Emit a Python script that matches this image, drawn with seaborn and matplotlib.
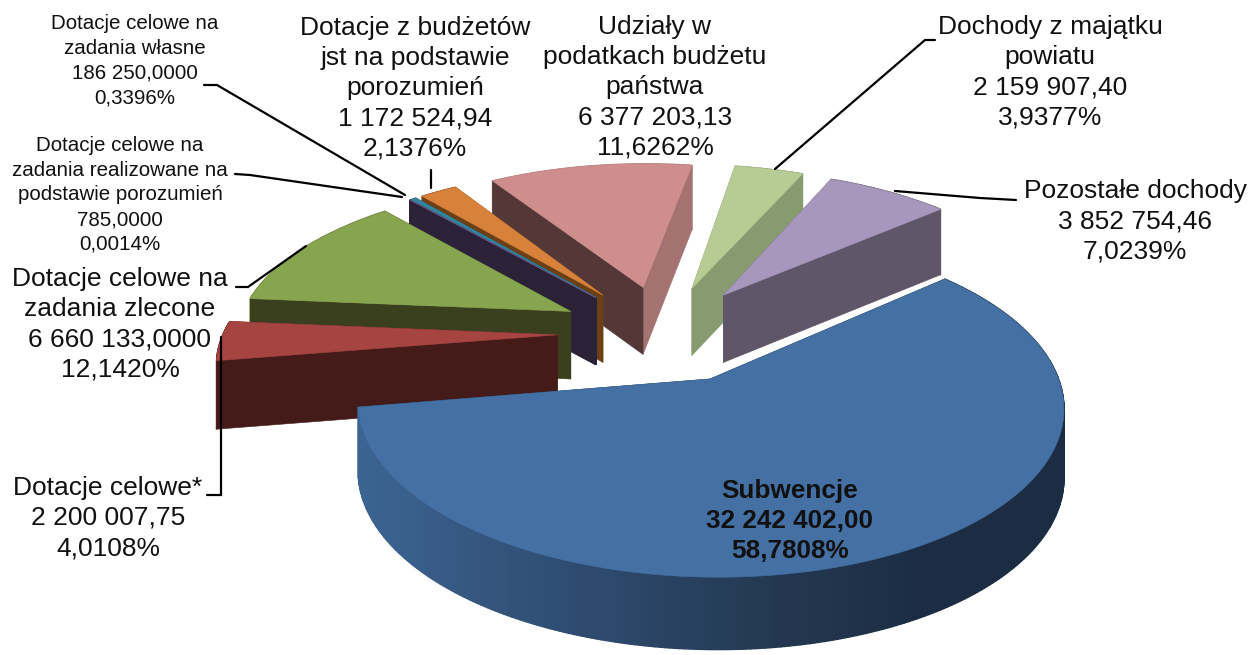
import numpy as np
import matplotlib
matplotlib.use("Agg")
import matplotlib.pyplot as plt
import seaborn as sns
from matplotlib.patches import Polygon

sns.set_theme(style="white")
plt.rcParams['font.family'] = ['Liberation Sans', 'DejaVu Sans']

# kolejnosc jak w oryginale: od Subwencji zgodnie z ruchem wskazowek zegara
names = ["Subwencje", "Dotacje celowe*", "Dotacje celowe na zadania zlecone",
         "Dotacje celowe na zadania realizowane na podstawie porozumień",
         "Dotacje celowe na zadania własne",
         "Dotacje z budżetów jst na podstawie porozumień",
         "Udziały w podatkach budżetu państwa",
         "Dochody z majątku powiatu", "Pozostałe dochody"]
values = [32242402.00, 2200007.75, 6660133.00, 785.00, 186250.00,
          1172524.94, 6377203.13, 2159907.40, 3852754.46]
value_labels = ["32 242 402,00", "2 200 007,75", "6 660 133,0000", "785,0000", "186 250,0000",
                "1 172 524,94", "6 377 203,13", "2 159 907,40", "3 852 754,46"]
pct_labels = ["58,7808%", "4,0108%", "12,1420%", "0,0014%", "0,3396%",
              "2,1376%", "11,6262%", "3,9377%", "7,0239%"]

top_colors = ["#4470A4", "#A64442", "#87A44E", "#6C5588", "#31859C",
              "#D8813A", "#CF8E8E", "#B7CC94", "#A897BC"]
left_colors = ["#1A2C42", "#451B19", "#3A401E", "#2B2238", "#2B2238",
               "#6D3F14", "#543838", "#889A70", "#5F566A"]
right_colors = ["#1A2C42", "#451B19", "#3A401E", "#2B2238", "#2B2238",
                "#6D3F14", "#A57272", "#889A70", "#5F566A"]
rim_colors = ["#2F5279", "#6E2C2A", "#5A7034", "#2B2238", "#2B2238",
              "#8A5022", "#A57272", "#889A70", "#5F566A"]

# rzut perspektywiczny plaszczyzny kola na piksele
CX, CY = 663, 333
AX_X, AX_Y, PERSP = 334, 154, 0.147
EXPLODE = 0.316
DEPTH = 68
START = 41.0


def project(x, y, lowered=False):
    s = 1 / (1 + PERSP * y)
    z = DEPTH * s ** 0.3 if lowered else 0 * s
    return np.column_stack([CX + AX_X * x * s, CY - AX_Y * y * s + z])


def face(ax, pts, color, z, lw=0.4):
    ax.add_patch(Polygon(pts, closed=True, fc=color, ec=color, lw=lw, zorder=z))


fig = plt.figure(figsize=(12.53, 6.55), dpi=100)
ax = fig.add_axes([0, 0, 1, 1])
ax.set_xlim(0, 1253)
ax.set_ylim(655, 0)
ax.axis("off")

sweeps = np.array(values) / np.sum(values) * 360
ends = START - np.cumsum(sweeps)
starts = ends + sweeps

# gradient sciany Subwencji zalezy od pozycji x
blue_shades = sns.blend_palette(["#3C6492", "#33547B", "#2B4566", "#233850", "#1C2D43", "#1C2D43"], 80)

# od tylu do przodu
draw_order = [7, 8, 6, 5, 4, 3, 2, 1, 0]
zpos = 1
for i in draw_order:
    a0, a1 = ends[i], starts[i]
    mid = np.radians((a0 + a1) / 2)
    ox, oy = EXPLODE * np.cos(mid), EXPLODE * np.sin(mid)
    n = max(2, int((a1 - a0) / 0.7))
    t = np.radians(np.linspace(a0, a1, n))
    rx, ry = ox + np.cos(t), oy + np.sin(t)

    top_rim = project(rx, ry)
    low_rim = project(rx, ry, True)
    apex_top = project(np.array([ox]), np.array([oy]))
    apex_low = project(np.array([ox]), np.array([oy]), True)

    # Subwencje: sciana zewnetrzna z przodu, pozostale: radialne na zewnetrznej
    rim_z = zpos + 2 if i == 0 else zpos
    wall_z = zpos if i == 0 else zpos + 2

    for k in range(n - 1):
        if i == 0:
            frac = (top_rim[k, 0] - 357) / (1062 - 357)
            color = blue_shades[int(np.clip(frac, 0, 0.999) * 80)]
        else:
            color = rim_colors[i]
        face(ax, np.vstack([top_rim[k], top_rim[k + 1], low_rim[k + 1], low_rim[k]]), color, rim_z, lw=1.0)

    # a0 = krawedz prawa, a1 = krawedz lewa
    face(ax, np.vstack([apex_top, top_rim[0], low_rim[0], apex_low]), right_colors[i], wall_z)
    face(ax, np.vstack([apex_top, top_rim[-1], low_rim[-1], apex_low]), left_colors[i], wall_z + 1)

    face(ax, np.vstack([apex_top, top_rim]), top_colors[i], zpos + 4)
    zpos += 5

big = 19.0
small = 14.8


def label(i, x, y, size, text_name=None, **kw):
    txt = (text_name or names[i]) + "\n" + value_labels[i] + "\n" + pct_labels[i]
    ax.text(x, y, txt, ha="center", va="center", fontsize=size, color="#111111",
            linespacing=kw.pop("linespacing", 1.32), zorder=200, **kw)


label(0, 790, 521, 18.8, weight="bold", linespacing=1.3)
label(1, 108, 518, big)
label(2, 120, 324, big, "Dotacje celowe na\nzadania zlecone")
label(3, 120, 195, small, "Dotacje celowe na\nzadania realizowane na\npodstawie porozumień", linespacing=1.38)
label(4, 135, 61, small, "Dotacje celowe na\nzadania własne", linespacing=1.38)
label(5, 415, 88, big, "Dotacje z budżetów\njst na podstawie\nporozumień")
label(6, 655, 87, big, "Udziały w\npodatkach budżetu\npaństwa")
label(7, 1050, 72, big, "Dochody z majątku\npowiatu")
label(8, 1135, 221, big)

leaders = [
    ([895, 980, 1016], [191, 198, 200]),
    ([775, 925, 935], [169, 40, 40]),
    ([431, 431], [170, 188]),
    ([204, 217, 405], [85, 85, 195]),
    ([235, 250, 402], [174, 175, 197]),
    ([306, 248, 236], [246, 287, 287]),
    ([221, 221, 207], [337, 495, 495]),
]
for lx, ly in leaders:
    ax.plot(lx, ly, color="black", lw=1.6, zorder=150, solid_joinstyle="miter")

fig.savefig("out.png", dpi=100, facecolor="white")
